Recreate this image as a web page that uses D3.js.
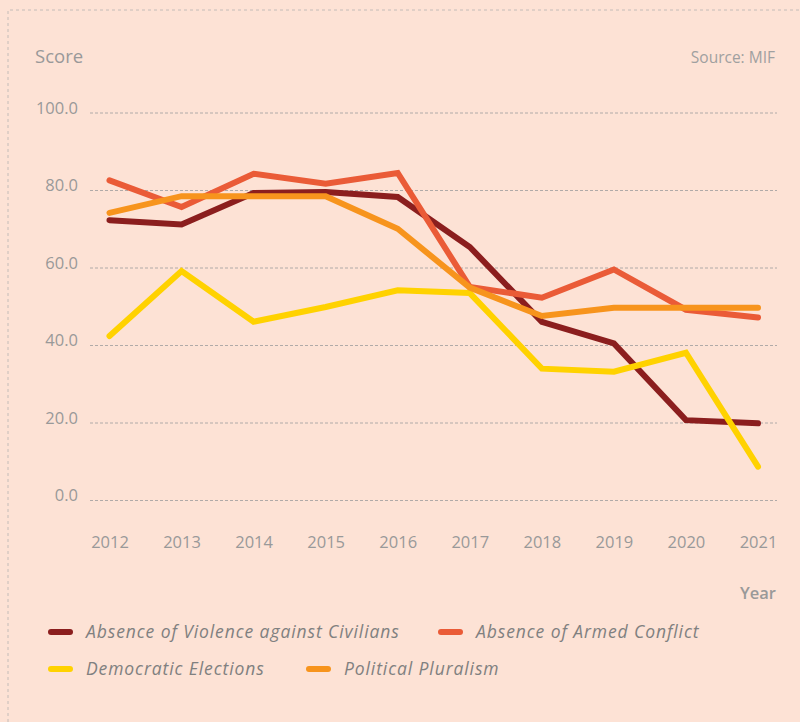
<!DOCTYPE html>
<html><head><meta charset="utf-8">
<script src="https://cdn.jsdelivr.net/npm/d3@7"></script>
<style>
html,body{margin:0;padding:0;background:#fde2d5;}
svg{display:block;font-family:"Open Sans", Lato, sans-serif;}
</style></head>
<body>
<svg id="chart" width="800" height="722"></svg>
<script>
const years = [2012,2013,2014,2015,2016,2017,2018,2019,2020,2021];
const violence = [72.2,71.1,79.2,79.5,78.2,65.3,46.0,40.4,20.6,19.8];
const armedConflict = [82.5,75.6,84.2,81.6,84.4,55.0,52.2,59.5,49.1,47.1];
const elections = [42.3,59.1,46.0,49.8,54.1,53.4,33.9,33.1,38.0,8.6];
const pluralism = [74.1,78.4,78.4,78.4,70.0,54.8,47.5,49.6,49.6,49.6];
const yTicks = [0,20,40,60,80,100];
const seriesNames = ["Absence of Violence against Civilians","Absence of Armed Conflict","Democratic Elections","Political Pluralism"];
const seriesColors = ["#8b1e1e","#ea5b37","#ffd200","#f7941d"];

const series = [
  {name:seriesNames[0], values:violence, color:seriesColors[0]},
  {name:seriesNames[1], values:armedConflict, color:seriesColors[1]},
  {name:seriesNames[2], values:elections, color:seriesColors[2]},
  {name:seriesNames[3], values:pluralism, color:seriesColors[3]}
];

const svg = d3.select("#chart");
const textColor = "#999999";

// dashed frame
svg.append("path").attr("d","M8,722 L8,10 L800,10")
  .attr("fill","none").attr("stroke","#c4bcb8").attr("stroke-width",1).attr("stroke-dasharray","3,3");

const x = d3.scalePoint().domain(years).range([109.5,758]);
const y = d3.scaleLinear().domain([0,100]).range([500,112.5]);

// gridlines
const yAxis = d3.axisLeft(y).tickValues(yTicks).tickSize(-(777-90)).tickFormat(d3.format(".1f"));
const gy = svg.append("g").attr("transform","translate(90,0)").call(yAxis);
gy.select(".domain").remove();
gy.selectAll(".tick line").attr("stroke","#b0aaa8").attr("stroke-dasharray","3,2").attr("stroke-width",1);
gy.selectAll(".tick text").attr("fill",textColor).attr("font-size",16.5)
  .attr("x",-12).attr("dy","0.05em").attr("font-family","'Open Sans', sans-serif");

// x axis
const xAxis = d3.axisBottom(x).tickSize(0).tickFormat(d3.format("d"));
const gx = svg.append("g").attr("transform","translate(0,548)").call(xAxis);
gx.select(".domain").remove();
gx.selectAll(".tick text").attr("fill",textColor).attr("font-size",16.5).attr("y",0).attr("dy",0).attr("font-family","'Open Sans', sans-serif");

// titles
svg.append("text").attr("x",35).attr("y",63).text("Score").attr("fill",textColor).attr("font-size",18.5);
svg.append("text").attr("x",775).attr("y",63).attr("text-anchor","end").text("Source: MIF").attr("fill","#a0a0a0").attr("font-size",15.5);
svg.append("text").attr("x",776).attr("y",599).attr("text-anchor","end").text("Year").attr("fill",textColor).attr("font-size",16.5).attr("font-weight",600);

// lines
const line = d3.line().x((d,i)=>x(years[i])).y(d=>y(d));
svg.append("g").selectAll("path").data(series).join("path")
  .attr("d",d=>line(d.values))
  .attr("fill","none").attr("stroke",d=>d.color).attr("stroke-width",6)
  .attr("stroke-linecap","round").attr("stroke-linejoin","miter");

// legend
const legendPos = [[48,632],[438,632],[48,669],[306,669]];
const lg = svg.append("g").selectAll("g").data(series).join("g")
  .attr("transform",(d,i)=>`translate(${legendPos[i][0]},${legendPos[i][1]})`);
lg.append("line").attr("x1",3).attr("x2",22).attr("y1",0).attr("y2",0)
  .attr("stroke",d=>d.color).attr("stroke-width",6).attr("stroke-linecap","round");
lg.append("text").attr("x",38).attr("y",0).attr("dy","0.35em").text(d=>d.name)
  .attr("fill","#808080").attr("font-size",17.5).attr("font-style","italic")
  .attr("letter-spacing",0.9);
</script>
</body></html>
